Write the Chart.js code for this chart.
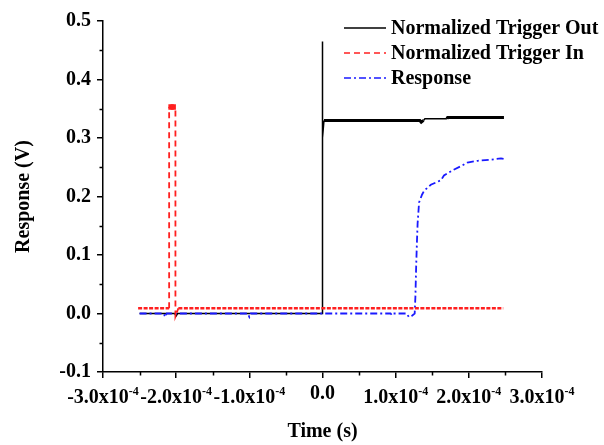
<!DOCTYPE html>
<html>
<head>
<meta charset="utf-8">
<script src="https://cdn.jsdelivr.net/npm/chart.js@4"></script>
<style>
  html, body { margin: 0; padding: 0; background: #fff; }
  #wrap { width: 604px; height: 445px; }
</style>
</head>
<body>
<div id="wrap"><canvas id="myChart" width="604" height="445"></canvas></div>
<script>
// time values are in units of 1e-4 s
const outTime = [-2.5, -2.02, -2.0, -1.98, 0, 0, 0, 0.02, 0.5, 1.0, 1.33, 1.35, 1.38, 1.4, 1.7, 1.71, 2.1, 2.48];
const outVolt = [0, 0, -0.004, 0, 0, 0.465, 0.30, 0.33, 0.33, 0.33, 0.33, 0.327, 0.33, 0.333, 0.333, 0.335, 0.335, 0.335];

const inTime = [-2.52, -2.3, -2.096, -2.096, -2.07, -2.04, -2.01, -2.01, -1.97, 0, 1.0, 2.47];
const inVolt = [0.009, 0.009, 0.009, 0.352, 0.353, 0.353, 0.352, -0.005, 0.009, 0.009, 0.009, 0.009];

const respTime = [-2.5, -2.17, -2.15, -2.13, -1.02, -1.0, -0.98, 0.93, 0.95, 0.97, 1.15, 1.18, 1.22, 1.26,
  1.27, 1.28, 1.29, 1.30, 1.32, 1.36, 1.39, 1.48, 1.55, 1.62, 1.66, 1.78, 1.91, 1.98, 2.12, 2.30, 2.44, 2.48];
const respVolt = [0, 0, -0.006, 0, 0, -0.006, 0, 0, -0.003, 0, 0, -0.006, -0.004, 0,
  0.03, 0.08, 0.12, 0.154, 0.19, 0.203, 0.21, 0.22, 0.224, 0.228, 0.236, 0.245, 0.253, 0.258, 0.261, 0.263, 0.265, 0.264];

const seriesNames = ['Normalized Trigger Out', 'Normalized Trigger In', 'Response'];
const xTicks = [-3, -2, -1, 0, 1, 2, 3];
const yTicks = [-0.1, 0, 0.1, 0.2, 0.3, 0.4, 0.5];

const serif = "'Liberation Serif', 'Times New Roman', serif";

function pts(xs, ys) {
  return xs.map((x, i) => ({ x: x, y: ys[i] }));
}

function flat(s) {
  return s.p0.parsed.y === s.p1.parsed.y;
}

let ctx = document.getElementById('myChart').getContext('2d');

// minor ticks, x labels with exponent, and the legend
const extras = {
  id: 'extras',
  afterDraw(chart) {
    const c = chart.ctx;
    const xs = chart.scales.x;
    const ys = chart.scales.y;
    const area = chart.chartArea;
    c.save();
    c.strokeStyle = '#000';
    c.lineWidth = 1.5;
    c.beginPath();
    for (let i = 0; i < xTicks.length - 1; i++) {
      let px = Math.round(xs.getPixelForValue((xTicks[i] + xTicks[i + 1]) / 2)) + 0.5;
      c.moveTo(px, area.bottom);
      c.lineTo(px, area.bottom + 3.5);
    }
    for (let i = 0; i < yTicks.length - 1; i++) {
      let py = Math.round(ys.getPixelForValue((yTicks[i] + yTicks[i + 1]) / 2)) + 0.5;
      c.moveTo(area.left, py);
      c.lineTo(area.left - 3.5, py);
    }
    c.stroke();

    c.fillStyle = '#000';
    c.textBaseline = 'alphabetic';
    c.textAlign = 'left';
    xTicks.forEach(v => {
      let px = xs.getPixelForValue(v);
      c.font = 'bold 20px ' + serif;
      if (v === 0) {
        let w = c.measureText('0.0').width;
        c.fillText('0.0', px - w / 2, area.bottom + 27);
        return;
      }
      let main = v.toFixed(1) + 'x10';
      let w1 = c.measureText(main).width;
      c.font = 'bold 12px ' + serif;
      let w2 = c.measureText('-4').width;
      let start = px - (w1 + w2) / 2;
      c.font = 'bold 20px ' + serif;
      c.fillText(main, start, area.bottom + 31);
      c.font = 'bold 12px ' + serif;
      c.fillText('-4', start + w1, area.bottom + 23);
    });

    // legend
    const rows = [27.5, 52.5, 77.5];
    chart.data.datasets.forEach((ds, i) => {
      c.strokeStyle = ds.borderColor;
      c.lineWidth = 1.5;
      c.setLineDash(ds.borderDash || []);
      c.beginPath();
      c.moveTo(344, rows[i] + 0.5);
      c.lineTo(386, rows[i] + 0.5);
      c.stroke();
      c.setLineDash([]);
      c.fillStyle = '#000';
      c.font = 'bold 20px ' + serif;
      c.textBaseline = 'middle';
      c.fillText(ds.label, 391, rows[i] + 1);
    });
    c.restore();
  }
};

const myChart = new Chart(ctx, {
  type: 'line',
  data: {
    datasets: [{
      label: seriesNames[0],
      data: pts(outTime, outVolt),
      borderColor: '#000000',
      borderWidth: 1.5,
      pointRadius: 0,
      order: 3,
      segment: {
        borderWidth: s => {
          if (s.p0.parsed.y < 0.32 || s.p1.parsed.y < 0.32 || s.p0.parsed.x === s.p1.parsed.x) return 1.5;
          if (s.p0.parsed.x >= 1.38 && s.p0.parsed.x < 1.7) return 1.5;
          return 3;
        }
      }
    }, {
      label: seriesNames[1],
      data: pts(inTime, inVolt),
      borderColor: '#ff2020',
      backgroundColor: '#ff2020',
      borderWidth: 1.8,
      borderDash: [6, 4],
      pointStyle: 'rect',
      pointRadius: c => (c.raw && c.raw.y > 0.3 && c.raw.x > -2.09 && c.raw.x < -2.02) ? 2.5 : 0,
      order: 1,
      segment: {
        borderWidth: s => (flat(s) && s.p0.parsed.y < 0.02) ? 2.6 : 1.8,
        borderDash: s => (flat(s) && s.p0.parsed.y < 0.02) ? [4, 1.5] : [6, 4]
      }
    }, {
      label: seriesNames[2],
      data: pts(respTime, respVolt),
      borderColor: '#1a1aff',
      borderWidth: 1.8,
      borderDash: [7, 3, 2, 3],
      pointRadius: 0,
      order: 2
    }]
  },
  options: {
    responsive: false,
    animation: false,
    layout: { padding: { left: 0, right: 62, top: 21, bottom: 0 } },
    plugins: {
      legend: { display: false },
      tooltip: { enabled: false }
    },
    scales: {
      x: {
        type: 'linear',
        min: -3,
        max: 3,
        afterBuildTicks: s => { s.ticks = xTicks.map(v => ({ value: v })); },
        ticks: {
          autoSkip: false,
          maxRotation: 0,
          color: 'rgba(0,0,0,0)',
          font: { size: 20, weight: 'bold', family: serif },
          callback: v => v.toFixed(1)
        },
        grid: { drawOnChartArea: false, color: '#000', lineWidth: 1.5, tickLength: 6 },
        border: { color: '#000', width: 1.5 },
        title: {
          display: true,
          text: 'Time (s)',
          color: '#000',
          font: { size: 20, weight: 'bold', family: serif },
          padding: { top: 0, bottom: 1 }
        },
        afterFit: s => { s.height = 73; }
      },
      y: {
        min: -0.1,
        max: 0.5,
        afterBuildTicks: s => { s.ticks = yTicks.map(v => ({ value: v })); },
        ticks: {
          color: '#000',
          padding: 6,
          font: { size: 20, weight: 'bold', family: serif },
          callback: v => v.toFixed(1)
        },
        grid: { drawOnChartArea: false, color: '#000', lineWidth: 1.5, tickLength: 6 },
        border: { color: '#000', width: 1.5 },
        title: {
          display: true,
          text: 'Response (V)',
          color: '#000',
          font: { size: 20, weight: 'bold', family: serif },
          padding: { top: 12, bottom: 0 }
        },
        afterFit: s => { s.width = 103; }
      }
    }
  },
  plugins: [extras]
});
</script>
</body>
</html>
